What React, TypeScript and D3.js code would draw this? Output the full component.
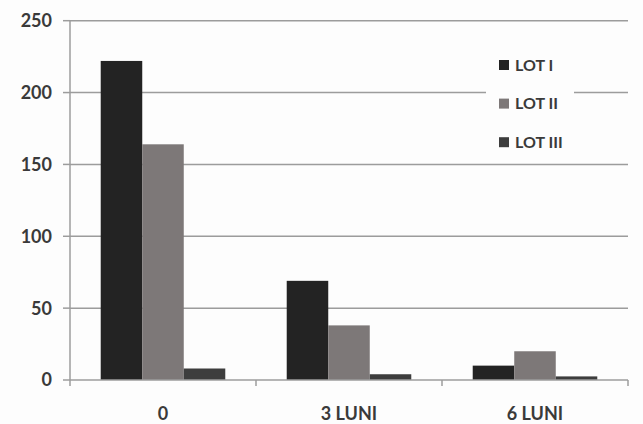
import React from "react";
import * as d3 from "d3";

const categories = ["0", "3 LUNI", "6 LUNI"];
const seriesNames = ["LOT I", "LOT II", "LOT III"];
const lot1 = [222, 69, 10];
const lot2 = [164, 38, 20];
const lot3 = [8, 4, 2.5];
const yTicks = [0, 50, 100, 150, 200, 250];

const seriesValues = [lot1, lot2, lot3];
const colors = ["#232323", "#7d7878", "#3d3d3d"];

const W = 643;
const H = 424;
const left = 70;
const right = 628;
const top = 20.7;
const bottom = 380;
const font = "Lato, 'Open Sans', 'DejaVu Sans', sans-serif";

export default function App() {
  const x0 = d3.scaleBand<string>().domain(categories).range([left, right]).padding(0);
  const x1 = d3
    .scaleBand<string>()
    .domain(seriesNames)
    .range([0, x0.bandwidth()])
    .paddingInner(0)
    .paddingOuter(0.74);
  const y = d3.scaleLinear().domain([0, 250]).range([bottom, top]);

  const boundaries = [left, ...categories.map((c) => (x0(c) as number) + x0.bandwidth())];

  return (
    <div style={{ position: "fixed", left: 0, top: 0 }}>
      <svg width={W} height={H} style={{ display: "block", background: "#fdfdfd" }}>
        {/* horizontal gridlines */}
        {yTicks
          .filter((t) => t > 0)
          .map((t) => (
            <line key={t} x1={left} x2={right} y1={y(t)} y2={y(t)} stroke="#9c9c9c" strokeWidth={1.5} />
          ))}
        {/* y tick marks and labels */}
        {yTicks.map((t) => (
          <g key={`yt${t}`}>
            <line x1={left - 7} x2={left} y1={y(t)} y2={y(t)} stroke="#9c9c9c" strokeWidth={1.5} />
            <text
              x={52}
              y={y(t)}
              dy="0.36em"
              textAnchor="end"
              fontFamily={font}
              fontSize={18}
              fontWeight={700}
              fill="#3a3a3a"
            >
              {t}
            </text>
          </g>
        ))}
        {/* bars */}
        {categories.map((c, ci) => (
          <g key={c} transform={`translate(${x0(c)},0)`}>
            {seriesNames.map((s, si) => {
              const v = seriesValues[si][ci];
              return (
                <rect
                  key={s}
                  x={x1(s)}
                  y={y(v)}
                  width={x1.bandwidth()}
                  height={bottom - y(v)}
                  fill={colors[si]}
                />
              );
            })}
          </g>
        ))}
        {/* axes */}
        <line x1={left} x2={left} y1={top} y2={bottom} stroke="#9c9c9c" strokeWidth={1.5} />
        <line x1={left} x2={right} y1={bottom} y2={bottom} stroke="#9c9c9c" strokeWidth={1.5} />
        {boundaries.map((b, i) => (
          <line key={`xt${i}`} x1={b} x2={b} y1={bottom} y2={bottom + 6} stroke="#9c9c9c" strokeWidth={1.5} />
        ))}
        {categories.map((c) => (
          <text
            key={`xl${c}`}
            x={(x0(c) as number) + x0.bandwidth() / 2}
            y={420}
            textAnchor="middle"
            fontFamily={font}
            fontSize={18}
            fontWeight={700}
            fill="#3a3a3a"
          >
            {c}
          </text>
        ))}
        {/* legend */}
        <rect x={486} y={46} width={88} height={112} fill="#fdfdfd" />
        {seriesNames.map((s, i) => {
          const cy = 65 + i * 38.6;
          return (
            <g key={`lg${s}`}>
              <rect x={499} y={cy - 5} width={10} height={10} fill={colors[i]} />
              <text
                x={515}
                y={cy}
                dy="0.36em"
                fontFamily={font}
                fontSize={16}
                fontWeight={700}
                fill="#3a3a3a"
              >
                {s}
              </text>
            </g>
          );
        })}
      </svg>
    </div>
  );
}
